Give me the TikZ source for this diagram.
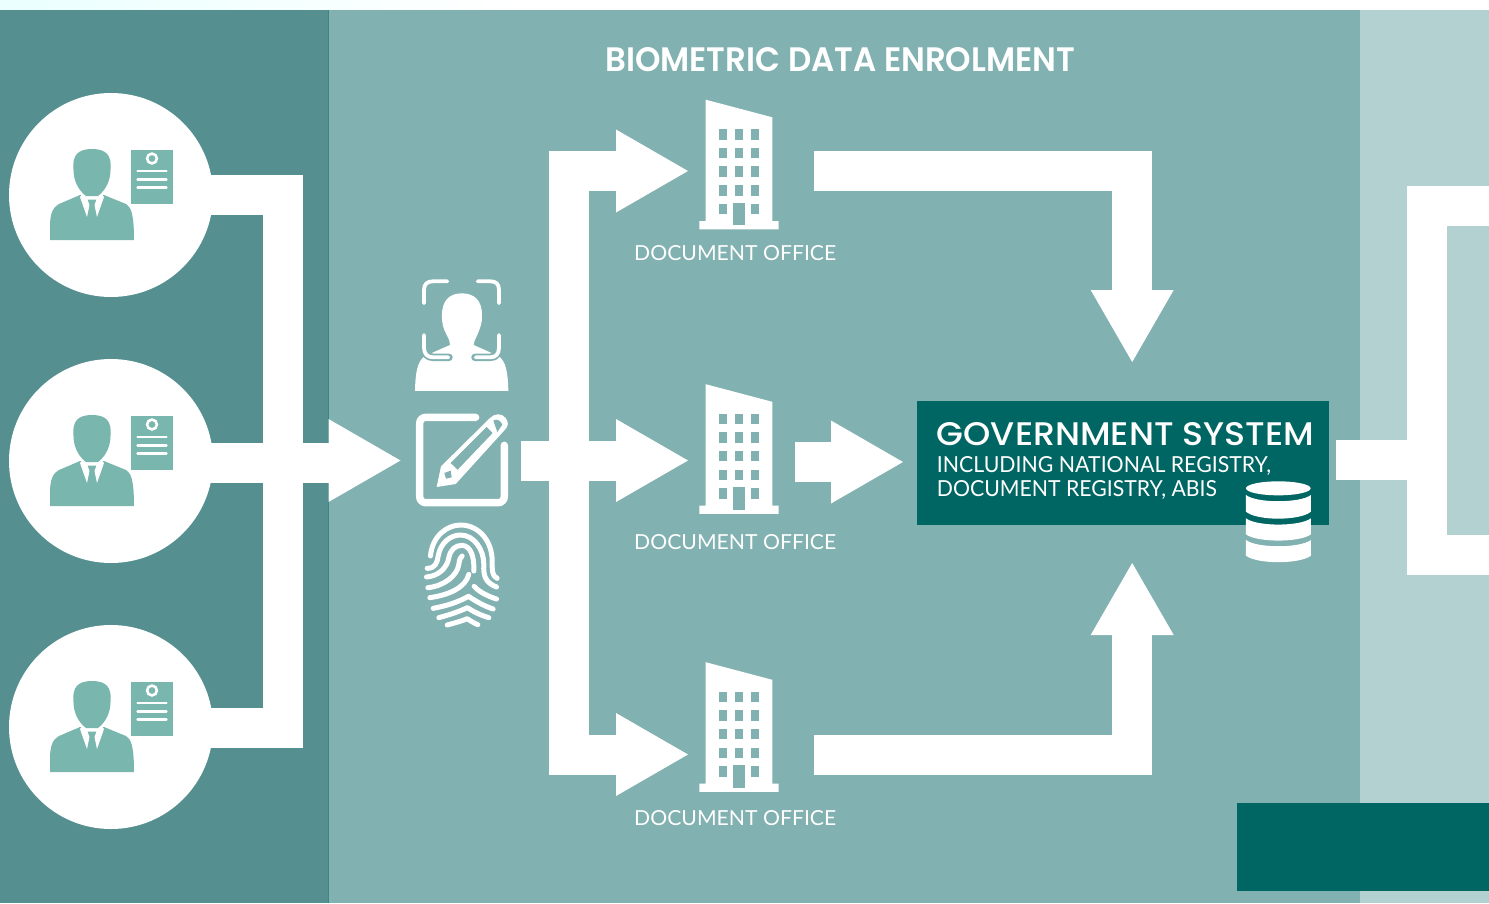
\documentclass[tikz,border=0pt]{standalone}
\usepackage{graphicx}
\usepackage{fontspec}
\usetikzlibrary{arrows.meta}
\setmainfont{Lato}
\newfontfamily\headfont{Poppins SemiBold}
\newfontfamily\govfont{Poppins Medium}
\definecolor{panelA}{HTML}{558F8F}
\definecolor{panelB}{HTML}{81B1B0}
\definecolor{panelC}{HTML}{B3D1D1}
\definecolor{deep}{HTML}{006664}
\definecolor{iconteal}{HTML}{78B6AE}
\newcommand\fittext[3]{\resizebox{#1pt}{#2pt}{#3}}
\tikzset{
  flow/.style={draw=white,line width=40pt,line cap=butt,line join=miter},
  flowtip/.style={flow,-{Triangle[length=72pt,width=83pt,line width=0pt,fill=white]}},
  label/.style={anchor=base west,inner sep=0pt,text=white},
  disc/.style={circle,fill=white,minimum size=204pt,inner sep=0pt},
  icon/.style={line width=3.8pt,draw=white,line cap=round,line join=round},
  fp/.style={draw=white,line width=5pt,line cap=round,line join=round},
  person/.pic={
    \fill[iconteal] (50,240) -- (50,226) .. controls (50,214) and (53,207) .. (59,204) -- (80,195) -- (104,195) -- (126,204) .. controls (131,207) and (134,214) .. (134,240) -- cycle;
    \fill[white] (80,197) -- (87,217) -- (89.5,205) -- (87.5,199.5) -- (96.5,199.5) -- (94.5,205) -- (97,217) -- (104,197) -- (100,192) -- (84,192) -- cycle;
    \fill[iconteal] (73.5,170) .. controls (72,155) and (78,149) .. (92,149) .. controls (106,149) and (112,155) .. (110.5,170) .. controls (110.5,180) and (106,190) .. (98,196) -- (86,196) .. controls (78,190) and (73.5,180) .. (73.5,170) -- cycle;
    \fill[iconteal] (131,149.5) rectangle (173,203.5);
    \draw[white,line width=2.6pt] (152,158.5) circle (4.9pt);
    \draw[white,line width=2.4pt,line cap=round] (137.5,171) -- (166.5,171) (137.5,179.5) -- (166.5,179.5) (137.5,187.5) -- (166.5,187.5);
  },
  office/.pic={
    \fill[white] (705.7,99.7) -- (772.3,117.3) -- (772.3,221) -- (778.7,221) -- (778.7,229.3) -- (699.3,229.3) -- (699.3,221) -- (705.7,221) -- cycle;
    \foreach \yy in {129.3,147.7,166.3,185,203.7}{
      \fill[panelB] (719,\yy) rectangle ++(8,10.6);
      \fill[panelB] (751,\yy) rectangle ++(7.7,10.6);
    }
    \foreach \yy in {129.3,147.7,166.3,185}{
      \fill[panelB] (735,\yy) rectangle ++(7.7,10.6);
    }
    \fill[panelB] (733,202.7) rectangle (745,225);
  }
}
\begin{document}
\begin{tikzpicture}[x=1pt,y=-1pt]
\useasboundingbox (0,0) rectangle (1489,903);
\fill[white] (0,0) rectangle (1489,10);
\shade[left color=cyan!8!white,right color=white] (0,0) rectangle (520,10);
\fill[panelA] (0,10) rectangle (328,903);
\fill[panelB] (328,10) rectangle (1360,903);
\fill[panelC] (1360,10) rectangle (1489,903);
\draw[draw=panelA!75!deep,line width=1pt] (328.5,10) -- (328.5,903);

% circles
\node[disc] (c1) at (111,195) {};
\node[disc] (c2) at (111,461) {};
\node[disc] (c3) at (111,727) {};
% junction coordinates
\coordinate (jtop) at (283,195);
\coordinate (jbot) at (283,728);
\coordinate (c2out) at (111,463);
\coordinate (leftend) at (330,463);
\coordinate (headstart) at (329,460.5);
\coordinate (headtip) at (400.5,460.5);
\coordinate (split) at (569,460.5);
\coordinate (midstart) at (521,460.5);
\coordinate (upT) at (569,171);
\coordinate (tipA) at (688,171);
\coordinate (tipB) at (688,460.5);
\coordinate (dnT) at (569,754.5);
\coordinate (tipC) at (688,754.5);
\coordinate (outA) at (814,171);
\coordinate (turnA) at (1132.2,171);
\coordinate (tipGovA) at (1132.2,362);
\coordinate (outB) at (795,462);
\coordinate (tipGovB) at (903,462);
\coordinate (outC) at (814,754.5);
\coordinate (turnC) at (1132.2,754.5);
\coordinate (tipGovC) at (1132.2,563);
\coordinate (govout) at (1336,460);
\coordinate (frameL) at (1407,460);
\coordinate (fa) at (1489,206);
\coordinate (fb) at (1427,206);
\coordinate (fc) at (1427,555);
\coordinate (fd) at (1489,555);

\draw[flow] (c1.center) -- (jtop) -- (jbot) -- (c3.center |- jbot);
\draw[flow] (c2out) -- (leftend);
\draw[flowtip] (headstart) -- (headtip);
\draw[flowtip] (split) -- (upT) -- (tipA);
\draw[flowtip] (midstart) -- (tipB);
\draw[flowtip] (split) -- (dnT) -- (tipC);
\draw[flowtip] (outA) -- (turnA) -- (tipGovA);
\draw[flowtip] (outB) -- (tipGovB);
\draw[flowtip] (outC) -- (turnC) -- (tipGovC);
\draw[flow] (govout) -- (frameL);
\draw[flow] (fa) -- (fb) -- (fc) -- (fd);

% people
\pic at (0,0) {person};
\pic at (0,266) {person};
\pic at (0,532) {person};
% offices
\pic at (0,0) {office};
\pic at (0,284.5) {office};
\pic at (0,562.5) {office};

% face icon
\begin{scope}[shift={(400,270)},x=0.3333pt,y=-0.3333pt]
  \fill[white] (45,363) .. controls (46,310) and (52,272) .. (75,258) -- (150,225) .. controls (150,215) and (148,210) .. (140,195) .. controls (130,175) and (125,160) .. (126,135) .. controls (126,90) and (150,70) .. (185,70) .. controls (222,70) and (246,90) .. (246,135) .. controls (247,160) and (240,175) .. (232,195) .. controls (225,210) and (221,215) .. (221,225) -- (295,258) .. controls (318,272) and (324,310) .. (325,363) -- cycle;
  \draw[panelB,line width=7.5pt,line cap=round,line join=round] (72,225) .. controls (72,250) and (80,262) .. (100,262) -- (147,262);
  \draw[panelB,line width=7.5pt,line cap=round,line join=round] (297,225) .. controls (297,250) and (290,262) .. (270,262) -- (225,262);
  \draw[icon] (72,100) -- (72,60) .. controls (72,42) and (82,34) .. (98,34) -- (142,34);
  \draw[icon] (233,34) -- (272,34) .. controls (288,34) and (297,42) .. (297,60) -- (297,100);
  \draw[icon] (72,195) -- (72,232) .. controls (72,252) and (82,262) .. (100,262) -- (145,262);
  \draw[icon] (297,195) -- (297,232) .. controls (297,252) and (288,262) .. (270,262) -- (227,262);
\end{scope}

% form and pencil icon
\begin{scope}[shift={(410,408)},x=0.3333pt,y=-0.3333pt]
  \draw[white,line width=7.4pt,line cap=round,line join=round,rounded corners=6pt] (197,28) -- (29,28) -- (29,284) -- (283,284) -- (283,112);
  \fill[white] (80,237) -- (93,175) -- (240,30) .. controls (255,15) and (275,15) .. (287,30) .. controls (297,43) and (295,55) .. (285,65) -- (137,228) -- cycle;
  \fill[panelB] (122,165) -- (230,57) -- (248,75) -- (143,185) -- cycle;
  \fill[panelB] (250,38) .. controls (260,30) and (272,38) .. (277,50) -- (262,72) -- cycle;
  \fill[panelB] (103,195) -- (122,188) -- (125,208) -- (108,212) -- cycle;
\end{scope}

% fingerprint icon
\begin{scope}[shift={(420.5,521)},x=0.3333pt,y=-0.3333pt]
  \draw[fp] (30,105) .. controls (35,45) and (80,12) .. (120,12) .. controls (175,12) and (215,60) .. (215,120) .. controls (215,150) and (215,165) .. (230,172);
  \draw[fp] (20,142) .. controls (45,142) and (50,125) .. (53,105) .. controls (60,65) and (90,42) .. (120,42) .. controls (160,42) and (190,85) .. (190,130) .. controls (188,165) and (195,185) .. (228,198);
  \draw[fp] (18,168) .. controls (55,165) and (80,140) .. (85,110) .. controls (90,85) and (105,73) .. (125,73) .. controls (150,75) and (162,105) .. (160,150);
  \draw[fp] (22,200) .. controls (70,195) and (110,165) .. (115,130) .. controls (117,115) and (120,108) .. (125,105);
  \draw[fp] (28,230) .. controls (85,222) and (135,200) .. (145,160);
  \draw[fp] (161,196) .. controls (175,212) and (200,225) .. (228,234);
  \draw[fp] (38,262) .. controls (75,255) and (110,245) .. (144,226) .. controls (165,240) and (190,255) .. (218,264);
  \draw[fp] (55,290) .. controls (85,282) and (115,272) .. (141,260) .. controls (155,270) and (180,283) .. (205,290);
  \draw[fp] (80,312) .. controls (105,305) and (125,300) .. (140,293) .. controls (150,300) and (160,306) .. (172,311);
\end{scope}

% government box
\node[anchor=north west,fill=deep,minimum width=412pt,minimum height=124pt,inner sep=0pt] (gov) at (917,401) {};
% database icon
\begin{scope}[shift={(910,395)},x=0.3333pt,y=-0.3333pt]
  \fill[white] (1105,280) ellipse [x radius=97, y radius=21];
  \fill[white] (1008,300) .. controls (1040,325) and (1170,325) .. (1203,300) -- (1203,350) .. controls (1170,378) and (1040,378) .. (1008,350) -- cycle;
  \fill[white] (1008,370) .. controls (1040,395) and (1170,395) .. (1203,370) -- (1203,418) .. controls (1170,443) and (1040,443) .. (1008,418) -- cycle;
  \fill[white] (1008,435) .. controls (1040,460) and (1170,460) .. (1203,435) -- (1203,482) .. controls (1170,508) and (1040,508) .. (1008,482) -- cycle;
\end{scope}

% dark box lower right
\fill[deep] (1237,803) rectangle (1489,891);

% labels
\node[label] (title) at (605,71) {\fittext{470}{24}{\headfont BIOMETRIC DATA ENROLMENT}};
\node[label] (l1) at (634,260) {\fittext{202}{15}{DOCUMENT OFFICE}};
\node[label] (l2) at (634,549) {\fittext{202}{15}{DOCUMENT OFFICE}};
\node[label] (l3) at (634,825) {\fittext{202}{15}{DOCUMENT OFFICE}};
\node[label] (gt) at (936.7,445) {\fittext{377}{23}{\govfont GOVERNMENT SYSTEM}};
\node[label] (gs1) at (936.7,472) {\fittext{334}{16}{INCLUDING NATIONAL REGISTRY,}};
\node[label] (gs2) at (936.7,496.5) {\fittext{280}{16}{DOCUMENT REGISTRY, ABIS}};
\end{tikzpicture}
\end{document}
